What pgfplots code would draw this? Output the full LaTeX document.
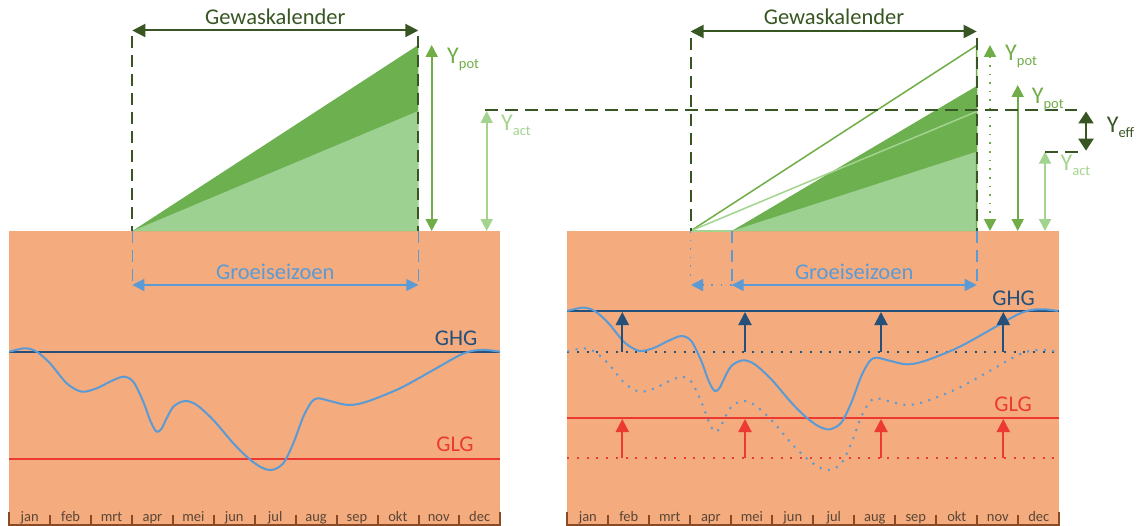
\documentclass[border=0pt]{standalone}
\usepackage{fontspec}
\setmainfont{Carlito}
\usepackage{pgfplots}
\usepackage{pgfplotstable}
\pgfplotsset{compat=1.18}
\usetikzlibrary{arrows.meta}

\definecolor{soil}{HTML}{F4AB7D}
\definecolor{gdark}{HTML}{6DB050}
\definecolor{glight}{HTML}{9DD191}
\definecolor{gline}{HTML}{70AD47}
\definecolor{glineL}{HTML}{A3D48F}
\definecolor{gtext}{HTML}{375623}
\definecolor{wblue}{HTML}{5B9BD5}
\definecolor{ghg}{HTML}{24507A}
\definecolor{glg}{HTML}{EC3A33}
\definecolor{tbrown}{HTML}{8B4A26}
\definecolor{mtext}{HTML}{5A4636}

\pgfplotstableread{
x y
9.3 351.7
25 348.3
36.7 351.7
50 363.3
66.7 383.3
81.7 391.7
96.7 388.3
110 381.7
123.3 376.7
133.3 381.7
143.3 401.7
150 420
155 430
158.3 431.7
162 428
165 421.7
173.3 406.7
185 401
196.7 405
213.3 420
233.3 443.3
246.7 456.7
260 466.7
271.7 470
283.3 463.3
293.3 443.3
303.3 416.7
311.7 401.7
318.3 398.3
330 401
348.3 405
366.7 401.7
400 388.3
433.3 370
460 355
473.3 350.7
486.7 350
500 351.7
}\curve

\newcommand\Ylab[1]{{\fontsize{24bp}{24bp}\selectfont Y}\raisebox{-5bp}{\fontsize{14.5bp}{14.5bp}\selectfont #1}}
\tikzset{
  Tr/.tip={Triangle[width=12bp,length=12bp]},
  Tb/.tip={Triangle[width=13bp,length=13bp]},
  big/.style={font=\fontsize{22.5bp}{26bp}\selectfont, inner sep=0pt, anchor=base},
  mon/.style={font=\fontsize{14.5bp}{16bp}\selectfont, text=mtext, inner sep=0pt, anchor=base},
  ylab/.style={inner sep=0pt, anchor=base west},
  gdash/.style={gtext, line width=2bp, dash pattern=on 12bp off 7bp},
  bdash/.style={wblue, line width=1.6bp, dash pattern=on 12bp off 7bp},
}

\begin{document}
\begin{tikzpicture}
\begin{axis}[
  width=1141bp, height=526bp, scale only axis,
  xmin=0, xmax=1141, ymin=0, ymax=526, y dir=reverse,
  hide axis, clip=false,
]
% soil blocks
\addplot[fill=soil, draw=none] coordinates {(9.3,231) (500.3,231) (500.3,526) (9.3,526)} -- cycle;
\addplot[fill=soil, draw=none] coordinates {(567.3,231) (1059.3,231) (1059.3,526) (567.3,526)} -- cycle;

% crop triangles, left
\addplot[fill=gdark, draw=none] coordinates {(132.3,231) (418.3,45) (418.3,231)} -- cycle;
\addplot[fill=glight, draw=none] coordinates {(132.3,231) (418.3,111) (418.3,231)} -- cycle;
% crop triangles, right
\addplot[fill=gdark, draw=none] coordinates {(731.7,231) (976.7,86) (976.7,231)} -- cycle;
\addplot[fill=glight, draw=none] coordinates {(731.7,231) (976.7,151.7) (976.7,231)} -- cycle;
\addplot[gline, line width=1.5bp] coordinates {(690.5,231) (976.7,45.5) (976.7,231)};
\addplot[glineL, line width=1.5bp] coordinates {(690.5,231) (976.7,111.5)};
\addplot[glineL, line width=1.5bp] coordinates {(690.5,231) (731.7,231)};

% Gewaskalender dashed verticals
\addplot[gdash] coordinates {(132.3,36) (132.3,231)};
\addplot[gdash] coordinates {(418.3,36) (418.3,231)};
\addplot[gdash] coordinates {(690.5,38) (690.5,231)};
\addplot[gdash] coordinates {(976.7,38) (976.7,231)};
% Gewaskalender arrows
\addplot[gtext, line width=2bp, Tb-Tb] coordinates {(132.3,30.5) (418.3,30.5)};
\addplot[gtext, line width=2bp, Tb-Tb] coordinates {(690.5,31.5) (976.7,31.5)};

% Groeiseizoen
\addplot[bdash] coordinates {(132.3,231) (132.3,285)};
\addplot[bdash] coordinates {(418.3,231) (418.3,285)};
\addplot[wblue, line width=1.6bp, Tr-Tr] coordinates {(132.3,285) (418.3,285)};
\addplot[bdash] coordinates {(731.7,231) (731.7,285)};
\addplot[bdash] coordinates {(976.7,231) (976.7,285)};
\addplot[wblue, line width=1.6bp, dash pattern=on 1.6bp off 7bp] coordinates {(690.5,231) (690.5,282)};
\addplot[wblue, line width=1.6bp, Tr-Tr] coordinates {(731.7,285) (976.7,285)};
\addplot[wblue, line width=1.6bp, dash pattern=on 1.6bp off 8bp, -Tr] coordinates {(731.7,285) (691,285)};

% GHG / GLG lines
\addplot[ghg, line width=2bp] coordinates {(9.3,351.7) (500.3,351.7)};
\addplot[glg, line width=2.2bp] coordinates {(9.3,458.8) (500.3,458.8)};
\addplot[ghg, line width=2bp] coordinates {(567.3,311) (1059.3,311)};
\addplot[glg, line width=1.8bp] coordinates {(567.3,418.3) (1059.3,418.3)};
\addplot[ghg, line width=2bp, dash pattern=on 2bp off 7.7bp] coordinates {(567.3,351.7) (1059.3,351.7)};
\addplot[glg, line width=2bp, dash pattern=on 2bp off 7.7bp] coordinates {(567.3,458.3) (1059.3,458.3)};

% groundwater curves
\addplot[wblue, line width=2bp, smooth] table[x=x, y=y] {\curve};
\addplot[wblue, line width=2bp, smooth, dash pattern=on 2bp off 6.5bp] table[x expr=\thisrow{x}+558, y=y] {\curve};
\addplot[wblue, line width=2bp, smooth] table[x expr=\thisrow{x}+558, y expr=\thisrow{y}-40.7] {\curve};

% rise arrows
\pgfplotsinvokeforeach{622.3,745,881,1003.3}{
  \addplot[ghg, line width=2bp, -Tb] coordinates {(#1,351.7) (#1,312)};
  \addplot[glg, line width=2bp, -Tb] coordinates {(#1,458.3) (#1,419)};
}

% yield arrows
\addplot[gline, line width=2bp, Tr-Tr] coordinates {(431.7,45) (431.7,231)};
\addplot[glineL, line width=2bp, Tr-Tr] coordinates {(486.7,111) (486.7,231)};
\addplot[gline, line width=2bp, dash pattern=on 1.6bp off 7bp, Tr-Tr] coordinates {(990,45) (990,231)};
\addplot[gline, line width=2bp, Tr-Tr] coordinates {(1017.7,85) (1017.7,231)};
\addplot[glineL, line width=2bp, Tr-Tr] coordinates {(1045,151.7) (1045,231)};
\addplot[gtext, line width=2.2bp, {Triangle[width=15bp,length=12bp]}-{Triangle[width=15bp,length=12bp]}] coordinates {(1086,111.5) (1086,150.7)};
% dashed reference levels
\addplot[gtext, line width=2bp, dash pattern=on 13bp off 7bp] coordinates {(485,110.5) (1077,110.5)};
\addplot[gtext, line width=2bp, dash pattern=on 13bp off 7bp] coordinates {(1045,151.7) (1083,151.7)};

% month ticks
\addplot[tbrown, line width=2bp] coordinates {(9.3,525) (500.3,525)};
\addplot[tbrown, line width=2bp] coordinates {(567.3,525) (1059.3,525)};
\pgfplotsinvokeforeach{9.3,500.3,567.3,1059.3}{
  \addplot[tbrown, line width=2bp] coordinates {(#1,511.7) (#1,526)};
}
\pgfplotsinvokeforeach{50.2,91.1,132.1,173.0,213.9,254.8,295.7,336.7,377.6,418.5,459.4,608.3,649.3,690.3,731.3,772.3,813.3,854.3,895.3,936.3,977.3,1018.3}{
  \addplot[tbrown, line width=2bp] coordinates {(#1,514.5) (#1,526)};
}

% texts
\node[big, text=gtext] at (axis cs:275.3,25) {Gewaskalender};
\node[big, text=gtext] at (axis cs:834,25) {Gewaskalender};
\node[big, text=wblue] at (axis cs:275.3,279) {Groeiseizoen};
\node[big, text=wblue] at (axis cs:854.2,279) {Groeiseizoen};
\node[big, text=ghg] at (axis cs:456,345) {GHG};
\node[big, text=ghg] at (axis cs:1013.5,305) {GHG};
\node[big, text=glg] at (axis cs:455,451.7) {GLG};
\node[big, text=glg] at (axis cs:1013,411.7) {GLG};
\node[ylab, text=gline] at (axis cs:447,63.5) {\Ylab{pot}};
\node[ylab, text=glineL] at (axis cs:501,130) {\Ylab{act}};
\node[ylab, text=gline] at (axis cs:1005,61) {\Ylab{pot}};
\node[ylab, text=gline] at (axis cs:1031.7,103.5) {\Ylab{pot}};
\node[ylab, text=gtext] at (axis cs:1106.7,132.5) {\Ylab{eff}};
\node[ylab, text=glineL] at (axis cs:1060.5,170) {\Ylab{act}};

% month labels
\node[mon] at (axis cs:29.75,521) {jan};
\node[mon] at (axis cs:70.65,521) {feb};
\node[mon] at (axis cs:111.55,521) {mrt};
\node[mon] at (axis cs:152.45,521) {apr};
\node[mon] at (axis cs:193.35,521) {mei};
\node[mon] at (axis cs:234.25,521) {jun};
\node[mon] at (axis cs:275.15,521) {jul};
\node[mon] at (axis cs:316.05,521) {aug};
\node[mon] at (axis cs:356.95,521) {sep};
\node[mon] at (axis cs:397.85,521) {okt};
\node[mon] at (axis cs:438.75,521) {nov};
\node[mon] at (axis cs:479.65,521) {dec};
\node[mon] at (axis cs:587.8,521) {jan};
\node[mon] at (axis cs:628.8,521) {feb};
\node[mon] at (axis cs:669.8,521) {mrt};
\node[mon] at (axis cs:710.8,521) {apr};
\node[mon] at (axis cs:751.8,521) {mei};
\node[mon] at (axis cs:792.8,521) {jun};
\node[mon] at (axis cs:833.8,521) {jul};
\node[mon] at (axis cs:874.8,521) {aug};
\node[mon] at (axis cs:915.8,521) {sep};
\node[mon] at (axis cs:956.8,521) {okt};
\node[mon] at (axis cs:997.8,521) {nov};
\node[mon] at (axis cs:1038.8,521) {dec};
\end{axis}
\pgfresetboundingbox
\path (current axis.south west) rectangle (current axis.north east);
\end{tikzpicture}
\end{document}
